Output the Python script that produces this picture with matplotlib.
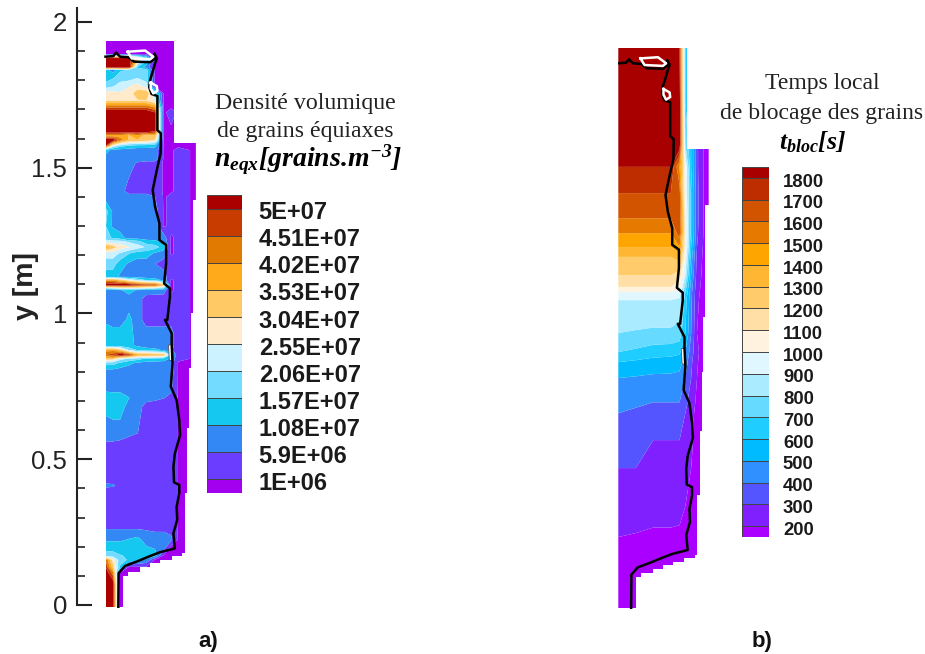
import matplotlib
matplotlib.use("Agg")
import matplotlib.pyplot as plt
from matplotlib.patches import Polygon
import numpy as np

plt.rcParams['font.family'] = ['Liberation Sans', 'DejaVu Sans']
plt.rcParams['mathtext.fontset'] = 'custom'
plt.rcParams['mathtext.bfit'] = 'Liberation Serif:italic:bold'
plt.rcParams['mathtext.rm'] = 'Liberation Serif:bold'

W, H = 925, 654

# casting outline, y [m] and x [m] from left wall
outline_x = [0, 0.236, 0.236, 0.310, 0.310, 0.299, 0.299, 0.292, 0.292, 0.288, 0.288, 0.280, 0.280,
             0.271, 0.271, 0.263, 0.263, 0.227, 0.227, 0.187, 0.187, 0.153, 0.153, 0.118, 0.118,
             0.078, 0.078, 0.061, 0.061, 0]
outline_y = [1.934, 1.934, 1.585, 1.585, 1.389, 1.389, 1.0, 1.0, 0.812, 0.812, 0.606, 0.606, 0.383,
             0.383, 0.177, 0.177, 0.168, 0.168, 0.154, 0.154, 0.143, 0.143, 0.129, 0.129, 0.114,
             0.114, 0.099, 0.099, -0.006, -0.006]

# solidification front
front_x = [0, .027, .036, .050, .078, .098, .153, .170, .168, .176, .170, .162, .153, .150, .158, .178, .178,
           .178, .190, .189, .176, .162, .170, .185, .185, .208, .208, .201, .221, .221, .212, .204, .227,
           .227, .230, .224, .244, .253, .256, .238, .233, .235, .253, .253, .244, .246, .233, .238,
           .187, .153, .107, .067, .045, .044]
front_y = [1.881, 1.883, 1.895, 1.881, 1.879, 1.864, 1.862, 1.875, 1.892, 1.875, 1.858, 1.830, 1.801, 1.776, 1.753,
           1.746, 1.687, 1.629, 1.618, 1.549, 1.492, 1.424, 1.366, 1.309, 1.252, 1.235, 1.172, 1.103,
           1.086, 1.058, .978, .978, .932, .898, .829, .749, .703, .635, .583, .520, .475, .421, .412,
           .383, .337, .292, .246, .194, .181, .168, .149, .134, .109, -.006]
loop1_x = [.076, .136, .164, .153, .090, .076]
loop1_y = [1.898, 1.902, 1.881, 1.872, 1.875, 1.898]
loop2_x = [.155, .176, .178, .164, .155, .155]
loop2_y = [1.792, 1.780, 1.764, 1.755, 1.772, 1.792]
loop3_x = [.216, .227, .233, .219, .216]
loop3_y = [.892, .892, .840, .838, .892]

# panel a, density in units of 1E7
neqx_levels = [0.1, 0.59, 1.08, 1.57, 2.06, 2.55, 3.04, 3.53, 4.02, 4.51, 5.0]
neqx_labels = ['1E+06', '5.9E+06', '1.08E+07', '1.57E+07', '2.06E+07', '2.55E+07', '3.04E+07',
               '3.53E+07', '4.02E+07', '4.51E+07', '5E+07']
neqx_colors = ['#A300F0', '#6B3DFF', '#3388F5', '#14C8F0', '#73DBFF', '#CCF2FF', '#FFEBCC',
               '#FFC966', '#FFAA1A', '#E07A00', '#C83C00', '#AA0000']
neqx_x = [0, .025, .05, .08, .11, .14, .17, .2, .225, .25, .31]
neqx_y = [-.01, .07, .11, .13, .155, .17, .2, .225, .25, .27, .395, .41, .425, .55, .566, .59, .68, .71,
          .75, .806, .83, .845, .858, .875, .89, .93, .978, 1.05, 1.08, 1.088, 1.098, 1.115, 1.126, 1.17,
          1.206, 1.228, 1.246, 1.26, 1.3, 1.35, 1.4, 1.42, 1.515, 1.53, 1.56, 1.575, 1.595, 1.61,
          1.625, 1.69, 1.71, 1.73, 1.755, 1.78, 1.81, 1.835, 1.845, 1.875, 1.89, 1.94]
neqx = [
    [5.5, 5.5, .05, .05, .05, .05, .05, .05, .05, .05, .05],
    [5.5, 5.5, .05, .05, .05, .05, .05, .05, .05, .05, .05],
    [5.5, 4.3, .05, .05, .05, .05, .05, .05, .05, .05, .05],
    [5.0, 3.3, 1.5, .05, .05, .05, .05, .05, .05, .05, .05],
    [4.5, 2.8, 1.8, 1.5, 1.3, 1.0, .05, .05, .05, .05, .05],
    [1.8, 1.8, 1.6, 1.5, 1.3, 1.3, 1.3, .05, .05, .05, .05],
    [1.3, 1.3, 1.3, 1.3, 1.3, 1.1, 1.0, .9, .05, .05, .05],
    [1.0, 1.0, 1.0, 1.1, 1.2, .9, .8, .8, .7, .05, .05],
    [.85, .85, .85, .85, .85, .7, .6, .6, .5, .05, .05],
    [.35, .35, .35, .35, .35, .35, .35, .35, .35, .05, .05],
    [.35, .35, .35, .35, .35, .35, .35, .35, .35, .05, .05],
    [.8, .7, .4, .35, .35, .35, .35, .35, .35, .05, .05],
    [.35, .35, .35, .35, .35, .35, .35, .35, .35, .05, .05],
    [.35, .35, .35, .35, .35, .35, .35, .35, .35, .05, .05],
    [.7, .7, .6, .4, .35, .35, .35, .35, .35, .05, .05],
    [.85, .85, .85, .8, .6, .35, .35, .35, .35, .05, .05],
    [1.2, 1.3, 1.3, .9, .85, .35, .35, .35, .35, .05, .05],
    [1.3, 1.3, 1.3, 1.1, .85, .8, .7, .6, .5, .05, .05],
    [.9, .85, .85, .85, .85, .85, .85, .85, .7, .05, .05],
    [1.0, 1.0, .9, .85, .85, .85, .85, .85, .85, .05, .05],
    [1.8, 1.8, 1.5, 1.2, 1.0, .9, .9, .9, .85, .05, .05],
    [3.3, 3.3, 2.3, 2.0, 1.8, 1.5, 1.4, 1.3, 1.0, .2, .05],
    [4.5, 4.8, 5.5, 5.0, 3.8, 3.8, 3.6, 3.5, 1.5, .2, .05],
    [3.8, 3.8, 3.3, 2.0, 1.5, 1.3, 1.2, 1.0, .7, .2, .05],
    [1.3, 1.3, 1.3, 1.2, 1.0, .85, .85, .85, .85, .2, .05],
    [1.3, 1.3, 1.3, 1.3, .85, .85, .85, .85, .85, .2, .05],
    [1.0, .85, .85, 1.2, .85, .35, .35, .35, .35, .2, .05],
    [.85, .85, .85, .85, .85, .35, .35, .35, .2, .2, .05],
    [.85, .9, 1.0, 1.3, 1.0, .9, .85, .8, .05, .2, .05],
    [2.3, 2.5, 2.8, 2.8, 2.8, 2.5, 2.4, 1.8, .05, .2, .05],
    [5.5, 5.5, 5.5, 5.5, 5.0, 4.8, 4.8, 3.5, .05, .2, .05],
    [3.8, 3.8, 3.3, 2.5, 2.0, 1.5, 1.3, .9, .05, .2, .05],
    [1.3, 1.3, 1.0, 1.0, .85, .85, .85, .85, .2, .2, .05],
    [1.8, 1.8, 1.3, 1.0, .85, .85, .6, .35, .35, .2, .05],
    [2.3, 2.3, 2.0, 1.6, 1.3, 1.3, 1.0, .85, .05, .2, .05],
    [3.8, 3.3, 2.8, 2.6, 2.3, 2.0, 1.8, 1.3, .05, .2, .05],
    [2.3, 2.3, 2.3, 2.0, 1.8, 1.3, 1.2, 1.0, .05, .2, .05],
    [1.8, 1.5, 1.3, .85, .85, .85, .85, .85, .05, .2, .05],
    [1.6, 1.0, .85, .85, .85, .85, .85, .05, .2, .2, .05],
    [1.8, 1.0, .85, .85, .85, .85, .85, .05, .2, .2, .05],
    [.85, .85, .85, .85, .85, .85, .6, .05, .2, .2, .05],
    [.85, .85, .85, .35, .35, .35, .35, .05, .05, .2, .05],
    [.85, .85, .85, .85, .5, .35, .35, .05, .05, .2, .05],
    [.85, .85, .85, .85, .85, .85, .85, .05, .05, .2, .05],
    [1.3, .9, .85, .85, .85, .85, .85, .05, .05, .2, .05],
    [5.0, 2.5, 1.8, 1.5, 1.3, 1.3, 1.2, .05, .05, .05, .05],
    [5.5, 5.5, 4.3, 3.5, 3.5, 3.3, 3.0, .05, .05, .05, .05],
    [3.8, 3.8, 3.8, 3.5, 3.8, 3.3, 3.5, .05, .05, .05, .05],
    [5.5, 5.5, 5.5, 5.5, 5.5, 5.5, 5.0, .05, .05, .05, .05],
    [5.5, 5.5, 5.5, 5.5, 5.5, 5.5, 5.0, .05, .2, .05, .05],
    [4.3, 4.3, 4.3, 4.3, 4.3, 4.3, 3.8, .05, .05, .05, .05],
    [3.0, 3.0, 3.0, 3.0, 3.0, 3.0, 2.5, .05, .05, .05, .05],
    [2.8, 2.8, 2.6, 2.8, 3.3, 3.5, 2.0, .05, .05, .05, .05],
    [1.8, 2.0, 2.3, 2.5, 2.8, 2.3, .05, .05, .05, .05, .05],
    [1.3, 1.5, 1.8, 1.8, 2.0, 1.8, .05, .05, .05, .05, .05],
    [1.3, .85, 1.5, 1.6, 1.8, 1.8, .05, .05, .05, .05, .05],
    [5.5, 5.5, 5.5, 5.5, 1.5, .85, .05, .05, .05, .05, .05],
    [5.5, 5.5, 5.5, 5.5, 3.5, 2.0, .05, .05, .05, .05, .05],
    [.05, .05, .05, .05, .05, .05, .05, .05, .05, .05, .05],
    [.05, .05, .05, .05, .05, .05, .05, .05, .05, .05, .05],
]

# panel b, local blocking time [s]
tbloc_levels = [200, 300, 400, 500, 600, 700, 800, 900, 1000, 1100, 1200, 1300, 1400, 1500, 1600, 1700, 1800]
tbloc_colors = ['#AA00FF', '#8020FF', '#5555FF', '#3090FF', '#00BBFF', '#1FCDFF', '#66DBFF', '#AAEBFF',
                '#E0F7FF', '#FFF3E0', '#FFDFA6', '#FFCB6B', '#FFB733', '#FFA500', '#E67A00', '#D35400',
                '#BE2D00', '#A80000']
tbloc_x = [0, .06, .12, .18, .21, .23, .25, .27, .31]
tbloc_y = [-.01, .239, .28, .478, .575, .668, .706, .79, .845, .88, .946, 1.06, 1.088, 1.106, 1.147,
           1.21, 1.244, 1.292, 1.344, 1.431, 1.522, 1.6, 1.75, 1.94]
tbloc = [
    [100, 100, 100, 100, 100, 100, 100, 100, 100],
    [200, 190, 180, 180, 170, 150, 100, 100, 100],
    [240, 220, 205, 205, 200, 190, 150, 120, 100],
    [300, 300, 255, 250, 245, 220, 200, 150, 100],
    [350, 340, 300, 300, 300, 270, 220, 160, 100],
    [400, 380, 370, 360, 360, 300, 230, 170, 100],
    [430, 420, 400, 400, 400, 330, 250, 180, 100],
    [500, 490, 480, 480, 470, 400, 300, 200, 100],
    [600, 580, 560, 550, 540, 450, 320, 210, 100],
    [700, 680, 650, 640, 620, 500, 350, 220, 100],
    [800, 790, 780, 780, 760, 600, 400, 200, 100],
    [900, 900, 900, 900, 880, 650, 420, 220, 100],
    [1000, 1000, 1000, 1000, 960, 700, 430, 230, 100],
    [1100, 1100, 1100, 1100, 1050, 760, 450, 240, 100],
    [1200, 1200, 1200, 1200, 1150, 900, 500, 260, 100],
    [1300, 1300, 1300, 1300, 1350, 1000, 550, 280, 100],
    [1400, 1400, 1400, 1400, 1500, 1050, 600, 300, 100],
    [1500, 1500, 1500, 1500, 1650, 1050, 650, 320, 100],
    [1600, 1600, 1600, 1600, 1700, 1050, 650, 330, 100],
    [1700, 1700, 1700, 1700, 1650, 1000, 650, 330, 100],
    [1800, 1800, 1800, 1800, 1500, 1000, 600, 320, 100],
    [2000, 2000, 2000, 2000, 1900, 800, 600, 320, 100],
    [2000, 2000, 2000, 2000, 1900, 700, 600, 320, 100],
    [2000, 2000, 2000, 2000, 1800, 700, 600, 320, 100],
]


def px_axes(fig, x0, y0, x1, y1):
    # axes from picture pixels, y0 is the top
    return fig.add_axes([x0 / W, 1 - y1 / H, (x1 - x0) / W, (y1 - y0) / H])


def draw_field(ax, x, y, z, levels, colors):
    cs = ax.contourf(x, y, np.array(z), levels=levels, colors=colors, extend='both', antialiased=True)
    clip = Polygon(np.column_stack([outline_x, outline_y]), closed=True, transform=ax.transData)
    cs.set_clip_path(clip)
    ax.plot(front_x, front_y, color='black', lw=1.8, solid_joinstyle='round')
    ax.plot(loop1_x, loop1_y, color='white', lw=1.8)
    ax.plot(loop2_x, loop2_y, color='white', lw=1.8)
    ax.fill(loop3_x, loop3_y, color='white', ec='#555555', lw=0.6)


def draw_legend(ax, levels, labels, colors, size, offset):
    pos = np.arange(len(levels))
    ax.bar(0.5, 0.5, width=1, bottom=-0.5, color=colors[0], edgecolor='#444444', lw=0.7)
    ax.bar(0.5, 0.5, width=1, bottom=pos[-1], color=colors[-1], edgecolor='#444444', lw=0.7)
    ax.bar([0.5] * (len(levels) - 1), [1] * (len(levels) - 1), width=1, bottom=pos[:-1], color=colors[1:-1],
           edgecolor='#444444', lw=0.7)
    ax.set_xlim(0, 1)
    ax.set_ylim(-0.5, pos[-1] + 0.5)
    ax.axis('off')
    for p, lab in zip(pos, labels):
        ax.annotate(lab, (1, p), xycoords=('axes fraction', 'data'), xytext=(offset, -3), textcoords='offset points',
                    va='center', ha='left', fontsize=size, fontweight='bold', color='#1a1a1a')


fig = plt.figure(figsize=(W / 100, H / 100), dpi=100)

# panel a
ax_a = px_axes(fig, 77, 8, 77 + 0.4278 * 291.5, 605 + 0.02 * 291.5)
ax_a.set_xlim(-0.0978, 0.33)
ax_a.set_ylim(-0.02, 2.048)
ax_a.patch.set_alpha(0)
draw_field(ax_a, neqx_x, neqx_y, neqx, neqx_levels, neqx_colors)
for s in ['top', 'right', 'bottom']:
    ax_a.spines[s].set_visible(False)
ax_a.spines['left'].set_bounds(0, 2.048)
ax_a.spines['left'].set_linewidth(1.5)
ax_a.spines['left'].set_color('#222222')
ax_a.set_xticks([])
ax_a.set_yticks([0, 0.5, 1, 1.5, 2])
ax_a.set_yticklabels(['0', '0.5', '1', '1.5', '2'])
ax_a.set_yticks(np.arange(0.1, 2.0, 0.1), minor=True)
ax_a.tick_params(axis='y', which='major', direction='in', length=10.5, width=1.5, color='#222222',
                 labelsize=18.5, labelcolor='#222222', pad=7)
ax_a.tick_params(axis='y', which='minor', direction='in', length=6, width=1.2, color='#222222')

# panel b
ax_b = px_axes(fig, 618.3, 48 - 0.016 * 288.5, 618.3 + 0.33 * 291.5, 606 + 0.01 * 288.5)
ax_b.set_xlim(0, 0.33)
ax_b.set_ylim(-0.01, 1.95)
ax_b.axis('off')
draw_field(ax_b, tbloc_x, tbloc_y, tbloc, tbloc_levels, tbloc_colors)

# legends
leg_a = px_axes(fig, 207, 195, 242, 493)
draw_legend(leg_a, neqx_levels, neqx_labels, neqx_colors, 17, 12)
leg_b = px_axes(fig, 741.5, 167, 769, 537)
draw_legend(leg_b, tbloc_levels, [str(v) for v in tbloc_levels], tbloc_colors, 13.3, 10)

# texts
serif = ['Liberation Serif', 'DejaVu Serif']
fig.text(305 / W, 1 - 103 / H, 'Densité volumique', family=serif, fontsize=17.2, ha='center', va='center', color='#222222')
fig.text(305 / W, 1 - 131 / H, 'de grains équiaxes', family=serif, fontsize=17.2, ha='center', va='center', color='#222222')
fig.text(308 / W, 1 - 160 / H, r'$\mathbfit{n_{eqx}[grains.\!m^{-3}]}$', fontsize=20, ha='center', va='center', color='black')
fig.text(822 / W, 1 - 84 / H, 'Temps local', family=serif, fontsize=17, ha='center', va='center', color='#222222')
fig.text(822 / W, 1 - 113 / H, 'de blocage des grains', family=serif, fontsize=17, ha='center', va='center', color='#222222')
fig.text(813 / W, 1 - 142 / H, r'$\mathbfit{t_{bloc}[s]}$', fontsize=18.5, ha='center', va='center', color='black')
fig.text(26 / W, 1 - 286 / H, 'y [m]', fontsize=20.5, fontweight='bold', rotation=90, ha='center', va='center', color='#222222')
fig.text(208 / W, 1 - 642 / H, 'a)', fontsize=16, fontweight='bold', ha='center', va='center', color='#111111')
fig.text(762 / W, 1 - 642 / H, 'b)', fontsize=16, fontweight='bold', ha='center', va='center', color='#111111')

fig.savefig('out.png', dpi=100)
